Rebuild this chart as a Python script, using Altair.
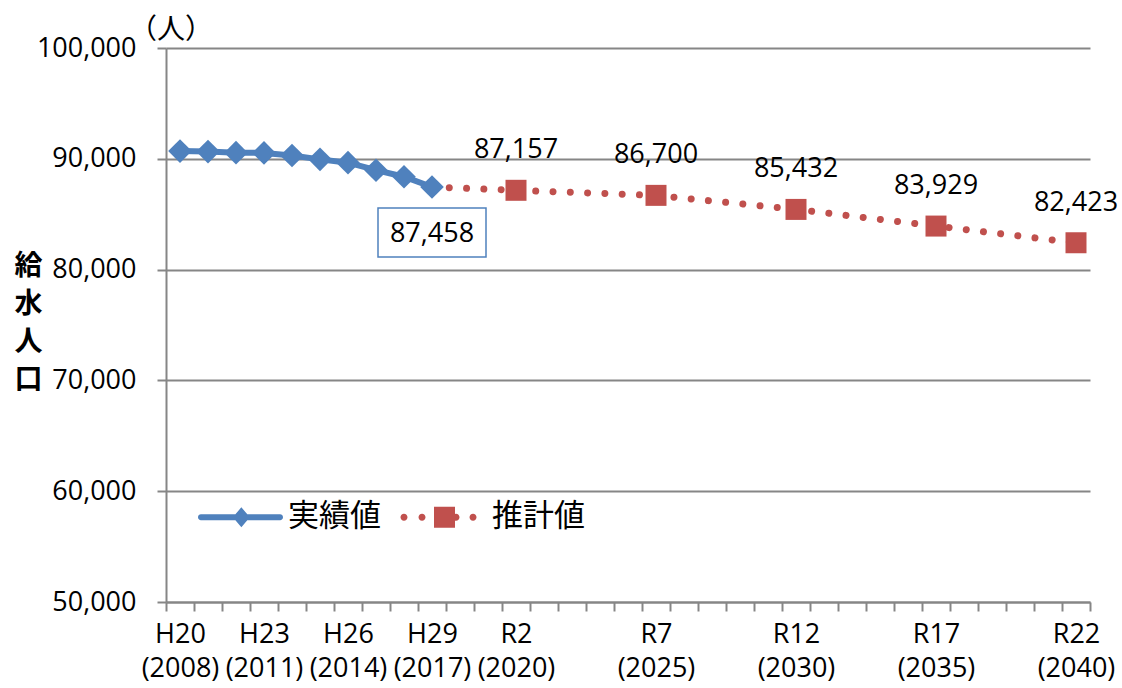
import altair as alt
import pandas as pd

# ---- data ----
years_actual = [2008, 2009, 2010, 2011, 2012, 2013, 2014, 2015, 2016, 2017]
values_actual = [90700, 90650, 90550, 90530, 90300, 89950, 89650, 88970, 88380, 87458]
years_forecast = [2020, 2025, 2030, 2035, 2040]
values_forecast = [87157, 86700, 85432, 83929, 82423]
label_years = [2008, 2011, 2014, 2017, 2020, 2025, 2030, 2035, 2040]
label_eras = ["H20", "H23", "H26", "H29", "R2", "R7", "R12", "R17", "R22"]
series_names = ["実績値", "推計値"]
y_title = ["給", "水", "人", "口"]
unit_label = ["（人）"]
y_ticks = [50000, 60000, 70000, 80000, 90000, 100000]
first_year, last_year = 2008, 2040

BLUE = "#4F81BD"
RED = "#C0504D"
GREY = "#868686"
NUM_FONT = "Open Sans, Noto Sans CJK JP"
JP_FONT = "Noto Sans CJK JP"

df_actual = pd.DataFrame({"year": years_actual, "value": values_actual})
df_fc_line = pd.DataFrame({"year": [years_actual[-1]] + years_forecast,
                           "value": [values_actual[-1]] + values_forecast})
df_fc = pd.DataFrame({"year": years_forecast, "value": values_forecast})
df_last = df_actual.tail(1)
df_series = pd.DataFrame({"series": series_names,
                          "year": [years_actual[0], years_forecast[0]],
                          "value": [values_actual[0], values_forecast[0]]})
df_unit = pd.DataFrame({"t": unit_label})

boundaries = [y + 0.5 for y in range(first_year - 1, last_year + 1)]
expr = " : ".join(f"datum.value == {y + 0.5} ? ['{e}', '({y})']"
                  for y, e in zip(label_years, label_eras)) + " : ''"

x_scale = alt.Scale(domain=[first_year - 0.5, last_year + 0.5], nice=False, zero=False)
y_scale = alt.Scale(domain=[50000, 100000], nice=False, zero=False)

x_axis = alt.Axis(values=boundaries, labelExpr=expr, labelOffset=-14,
                  labelOverlap=False, labelFlush=False, grid=False,
                  tickSize=9, tickWidth=2, tickColor=GREY,
                  domainColor=GREY, domainWidth=2,
                  labelFont=NUM_FONT, labelFontSize=27, labelLineHeight=34,
                  labelPadding=10, labelColor="black", title=None)
y_axis = alt.Axis(values=y_ticks, format=",.0f", grid=True, gridColor=GREY, gridWidth=2,
                  tickSize=9, tickWidth=2, tickColor=GREY,
                  domainColor=GREY, domainWidth=2,
                  labelFont=NUM_FONT, labelFontSize=27, labelPadding=21,
                  labelColor="black",
                  title=y_title, titleAngle=0, titleX=-138, titleY=218,
                  titleAlign="center", titleBaseline="middle",
                  titleFont=JP_FONT, titleFontSize=28, titleFontWeight="bold",
                  titleLineHeight=38, titleColor="black")

X = alt.X("year:Q", scale=x_scale, axis=x_axis)
Y = alt.Y("value:Q", scale=y_scale, axis=y_axis)

actual_line = alt.Chart(df_actual).mark_line(color=BLUE, strokeWidth=6).encode(x=X, y=Y)
actual_pts = alt.Chart(df_actual).mark_point(shape="diamond", filled=True, size=560,
                                             color=BLUE, opacity=1).encode(x=X, y=Y)
fc_line = alt.Chart(df_fc_line).mark_line(color=RED, strokeWidth=7,
                                          strokeDash=[0.001, 17.3],
                                          strokeCap="round").encode(x=X, y=Y)
fc_pts = alt.Chart(df_fc).mark_point(shape="square", filled=True, size=441,
                                     color=RED, opacity=1).encode(x=X, y=Y)
fc_labels = alt.Chart(df_fc).mark_text(font=NUM_FONT, fontSize=27, color="black",
                                       baseline="alphabetic", dy=-32).encode(
    x=X, y=Y, text=alt.Text("value:Q", format=","))

box_path = "M-1,-0.4537H1V0.4537H-1Z"
last_box = alt.Chart(df_last).mark_point(shape=box_path, filled=True, fill="white",
                                         stroke=BLUE, strokeWidth=1.5, opacity=1,
                                         size=11664, yOffset=45.5).encode(x=X, y=Y)
last_label = alt.Chart(df_last).mark_text(font=NUM_FONT, fontSize=27, color="black",
                                          baseline="middle", dy=47).encode(
    x=X, y=Y, text=alt.Text("value:Q", format=","))

# legend symbols (unit square -1..1, 1 unit = 42.5 px)
def circ(cx, cy, r):
    return (f"M{cx - r:.4f},{cy:.4f}A{r:.4f},{r:.4f} 0 1 1 {cx + r:.4f},{cy:.4f}"
            f"A{r:.4f},{r:.4f} 0 1 1 {cx - r:.4f},{cy:.4f}Z")

blue_sym = ("M-0.93,-0.07H0.93V0.07H-0.93Z" + circ(-0.93, 0, 0.07) + circ(0.93, 0, 0.07)
            + "M-0.18,0L0.02,-0.235L0.22,0L0.02,0.235Z")
red_sym = "".join(circ(c, 0, 0.0824) for c in [-0.953, -0.529, -0.129, 0.271, 0.671]) \
    + "M-0.247,-0.247H0.247V0.247H-0.247Z"

legend = alt.Legend(orient="none", legendX=32, legendY=426.5, direction="horizontal",
                    columns=2, title=None, symbolSize=7225, symbolStrokeWidth=0,
                    symbolOpacity=1, labelFont=JP_FONT, labelFontSize=31,
                    labelColor="black", labelOffset=5, columnPadding=19, padding=0)
legend_layer = alt.Chart(df_series).mark_point(filled=True, opacity=0).encode(
    x=X, y=Y,
    color=alt.Color("series:N", scale=alt.Scale(domain=series_names, range=[BLUE, RED]),
                    legend=legend),
    shape=alt.Shape("series:N", scale=alt.Scale(domain=series_names,
                                                range=[blue_sym, red_sym]),
                    legend=legend))

unit_text = alt.Chart(df_unit).mark_text(font=JP_FONT, fontSize=28, color="black",
                                         align="center", baseline="middle").encode(
    x=alt.value(5), y=alt.value(-17), text="t:N")

chart = alt.layer(actual_line, fc_line, actual_pts, fc_pts, fc_labels,
                  last_box, last_label, legend_layer, unit_text).properties(
    width=924, height=554,
    autosize=alt.AutoSizeParams(type="none"),
    padding={"left": 166, "top": 48, "right": 32, "bottom": 86},
    background="white",
).configure_view(strokeWidth=0)

chart.save("out.html", embed_options={"renderer": "svg", "actions": False})
